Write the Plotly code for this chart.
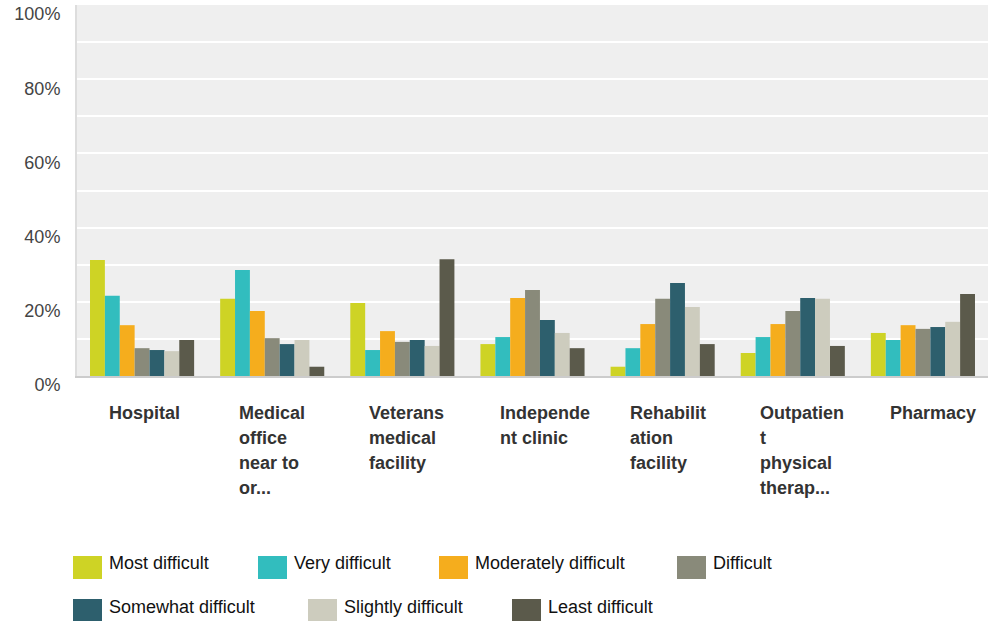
import plotly.graph_objects as go

categories = ["Hospital", "Medical office near to or...", "Veterans medical facility",
              "Independent clinic", "Rehabilitation facility",
              "Outpatient physical therap...", "Pharmacy"]
category_lines = [["Hospital"], ["Medical", "office", "near to", "or..."],
                  ["Veterans", "medical", "facility"], ["Independe", "nt clinic"],
                  ["Rehabilit", "ation", "facility"],
                  ["Outpatien", "t", "physical", "therap..."], ["Pharmacy"]]

series_names = ["Most difficult", "Very difficult", "Moderately difficult", "Difficult",
                "Somewhat difficult", "Slightly difficult", "Least difficult"]
most_difficult = [31.3, 20.8, 19.7, 8.6, 2.5, 6.2, 11.6]
very_difficult = [21.6, 28.6, 7.0, 10.5, 7.5, 10.5, 9.7]
moderately_difficult = [13.7, 17.5, 12.1, 21.0, 14.0, 14.0, 13.7]
difficult = [7.5, 10.2, 9.2, 23.2, 20.8, 17.5, 12.7]
somewhat_difficult = [7.0, 8.6, 9.7, 15.1, 25.1, 21.0, 13.2]
slightly_difficult = [6.7, 9.7, 8.1, 11.6, 18.6, 20.8, 14.6]
least_difficult = [9.7, 2.5, 31.5, 7.5, 8.6, 8.1, 22.1]
series_values = [most_difficult, very_difficult, moderately_difficult, difficult,
                 somewhat_difficult, slightly_difficult, least_difficult]
colors = ["#CED325", "#32BDBE", "#F5AD1D", "#898A7A", "#2D5F6D", "#CDCCBE", "#5B5A4B"]

y_tickvals = [0, 20, 40, 60, 80, 100]
y_ticktext = ["0%", "20%", "40%", "60%", "80%", "100%"]

W, H = 988, 622
ML, MR, MT, MB = 77, 0, 5, 246
PW, PH = W - ML - MR, H - MT - MB

FONT = "Arial, Liberation Sans, sans-serif"

fig = go.Figure()
for name, vals, col in zip(series_names, series_values, colors):
    fig.add_trace(go.Bar(x=categories, y=vals, name=name, marker_color=col,
                         marker_line_width=0, showlegend=False,
                         hovertemplate="%{x}: %{y}%<extra>" + name + "</extra>"))

def px_to_paper_x(px):
    return (px - ML) / PW

def px_to_paper_y(py):
    return (H - MB - py) / PH

annotations = []
# category labels, left-aligned, multi-line
for cat, lines in zip(categories, category_lines):
    for i, line in enumerate(lines):
        annotations.append(dict(x=cat, xref="x", y=0, yref="paper", text="<b>" + line + "</b>",
                                showarrow=False, xanchor="left", yanchor="middle",
                                xshift=-35, yshift=-37 - 25 * i,
                                font=dict(family=FONT, size=18, color="#333333")))

# custom legend
legend_rows = [[0, 1, 2, 3], [4, 5, 6]]
legend_x = [[73, 258, 439, 677], [73, 308, 512]]
legend_y = [(556, 579, 563), (599, 621, 606.5)]
shapes = []
for r, row in enumerate(legend_rows):
    y0, y1, ty = legend_y[r]
    for k, idx in enumerate(row):
        x0 = legend_x[r][k]
        shapes.append(dict(type="rect", xref="paper", yref="paper",
                           x0=px_to_paper_x(x0), x1=px_to_paper_x(x0 + 29),
                           y0=px_to_paper_y(y1), y1=px_to_paper_y(y0),
                           fillcolor=colors[idx], line=dict(width=0)))
        annotations.append(dict(x=px_to_paper_x(x0 + 34), xref="paper",
                                y=px_to_paper_y(ty), yref="paper",
                                text=series_names[idx], showarrow=False,
                                xanchor="left", yanchor="middle",
                                font=dict(family=FONT, size=18, color="#111111")))

fig.update_layout(
    width=W, height=H,
    margin=dict(l=ML, r=MR, t=MT, b=MB, pad=0, autoexpand=False),
    paper_bgcolor="white", plot_bgcolor="#EFEFEF",
    barmode="group", bargap=0.2, bargroupgap=0,
    annotations=annotations, shapes=shapes,
    font=dict(family=FONT),
)
fig.update_xaxes(showticklabels=False, showgrid=False, showline=True, automargin=False,
                 linecolor="#CCCCCC", linewidth=2, ticks="", zeroline=False)
fig.update_yaxes(range=[0, 100], tickvals=y_tickvals, ticktext=y_ticktext, automargin=False,
                 showgrid=True, gridcolor="white", gridwidth=2,
                 minor=dict(dtick=10, tick0=0, showgrid=True, gridcolor="white", gridwidth=2),
                 showline=True, linecolor="#DDDDDD", linewidth=2, zeroline=False,
                 ticks="", ticklabelstandoff=11, ticklabelshift=9,
                 ticklabeloverflow="allow",
                 tickfont=dict(family=FONT, size=18, color="#444444"))

fig.write_html("out.html", config={"displayModeBar": False},
               post_script="document.body.style.margin='0';document.body.style.padding='0';")
